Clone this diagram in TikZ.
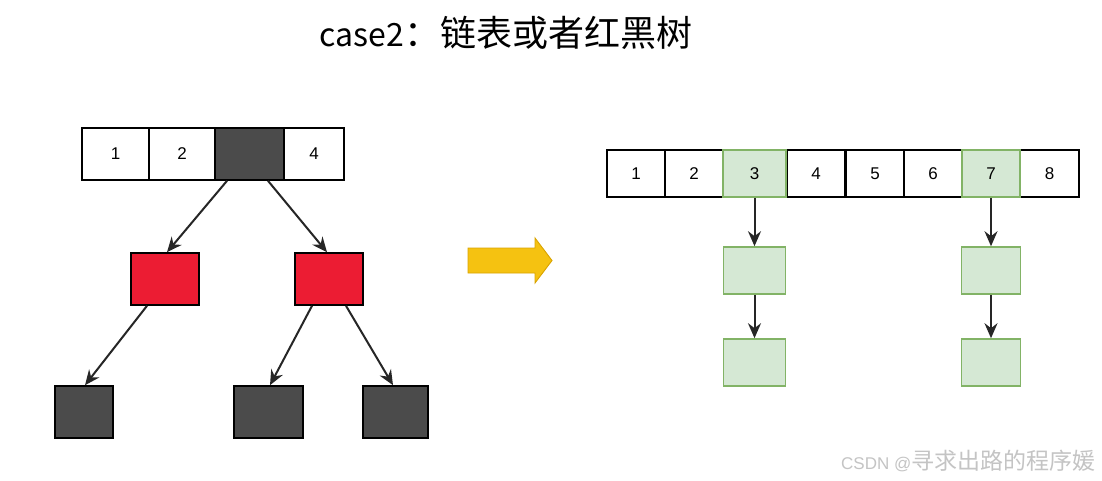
\documentclass[tikz,border=0pt]{standalone}
\usepackage{fontspec}
\setmainfont{Liberation Sans}
\newfontfamily\cjk{Noto Sans CJK SC}
\usetikzlibrary{arrows.meta}
\definecolor{darkcell}{HTML}{4B4B4B}
\definecolor{redcell}{HTML}{EC1C33}
\definecolor{greenfill}{HTML}{D5E8D4}
\definecolor{greenline}{HTML}{82B366}
\definecolor{yellowfill}{HTML}{F5C211}
\definecolor{yellowline}{HTML}{D9A300}
\definecolor{wmgray}{HTML}{C4C4C4}
\tikzset{
  cell/.style={draw=black, line width=1.6pt, fill=white, inner sep=0pt, minimum height=#1, font=\fontsize{17}{20}\selectfont},
  cell/.default=52pt,
  darkbox/.style={draw=black, line width=1.6pt, fill=darkcell, inner sep=0pt},
  redbox/.style={draw=black, line width=1.6pt, fill=redcell, inner sep=0pt, minimum width=68pt, minimum height=52pt},
  greenbox/.style={draw=greenline, line width=1.6pt, fill=greenfill, inner sep=0pt, font=\fontsize{17}{20}\selectfont},
  link/.style={draw=black!85, line width=2pt, -{Stealth[length=15pt,width=13pt,inset=5pt]}},
}
\begin{document}
\begin{tikzpicture}[x=1pt,y=-1pt]
\useasboundingbox (0,0) rectangle (1102,480);
\fill[white] (0,0) rectangle (1102,480);
% title
\node[anchor=center, inner sep=0pt] (title) at (506,33) {\cjk\fontsize{32}{40}\selectfont case2\fontsize{36}{40}\selectfont ：链表或者红黑树};
% left array
\node[cell, minimum width=67pt] (a1) at (115.5,154) {1};
\node[cell, minimum width=66pt] (a2) at (182,154) {2};
\node[darkbox, minimum width=69pt, minimum height=52pt] (a3) at (249.5,154) {};
\node[cell, minimum width=60pt] (a4) at (314,154) {4};
% red nodes
\node[redbox] (r1) at (165,279) {};
\node[redbox] (r2) at (329,279) {};
% bottom dark nodes
\node[darkbox, minimum width=58pt, minimum height=52pt] (b1) at (84,412) {};
\node[darkbox, minimum width=69pt, minimum height=52pt] (b2) at (268.5,412) {};
\node[darkbox, minimum width=65pt, minimum height=52pt] (b3) at (395.5,412) {};
% tree connectors
\draw[link] ([xshift=-22.5pt]a3.south) -- ([xshift=2pt]r1.north);
\draw[link] ([xshift=18.5pt]a3.south) -- ([xshift=-2pt]r2.north);
\draw[link] ([xshift=-18pt]r1.south) -- ([xshift=1pt]b1.north);
\draw[link] ([xshift=-17pt]r2.south) -- ([xshift=1.5pt]b2.north);
\draw[link] ([xshift=17pt]r2.south) -- ([xshift=-2.5pt]b3.north);
% yellow arrow (block shape)
\draw[draw=yellowline, fill=yellowfill, line width=0.9pt, line join=miter]
  (468,248) -- (535,248) -- (535,238) -- (552,260.5) -- (535,283) -- (535,273) -- (468,273) -- cycle;
% right array
\node[cell=47pt, minimum width=58pt] (c1) at (636,173.5) {1};
\node[cell=47pt, minimum width=58pt] (c2) at (694,173.5) {2};
\node[cell=47pt, minimum width=58pt] (c4) at (816,173.5) {4};
\node[cell=47pt, minimum width=58pt] (c5) at (875,173.5) {5};
\node[cell=47pt, minimum width=58pt] (c6) at (933,173.5) {6};
\node[cell=47pt, minimum width=59pt] (c8) at (1049.5,173.5) {8};
\node[greenbox, minimum width=63pt, minimum height=47pt] (c3) at (754.5,173.5) {3};
\node[greenbox, minimum width=58pt, minimum height=47pt] (c7) at (991,173.5) {7};
% chains
\node[greenbox, minimum width=62pt, minimum height=47pt] (g1) at (754.5,270.5) {};
\node[greenbox, minimum width=62pt, minimum height=47pt] (g2) at (754.5,362.5) {};
\node[greenbox, minimum width=59pt, minimum height=47pt] (g3) at (991,270.5) {};
\node[greenbox, minimum width=59pt, minimum height=47pt] (g4) at (991,362.5) {};
\draw[link] (c3.south) -- (g1.north);
\draw[link] (g1.south) -- (g2.north);
\draw[link] (c7.south) -- (g3.north);
\draw[link] (g3.south) -- (g4.north);
% watermark
\node[anchor=west, inner sep=0pt, text=wmgray] (wm) at (841,461) {\fontsize{17}{20}\selectfont CSDN @\cjk\fontsize{23}{26}\selectfont 寻求出路的程序媛};
\end{tikzpicture}
\end{document}
